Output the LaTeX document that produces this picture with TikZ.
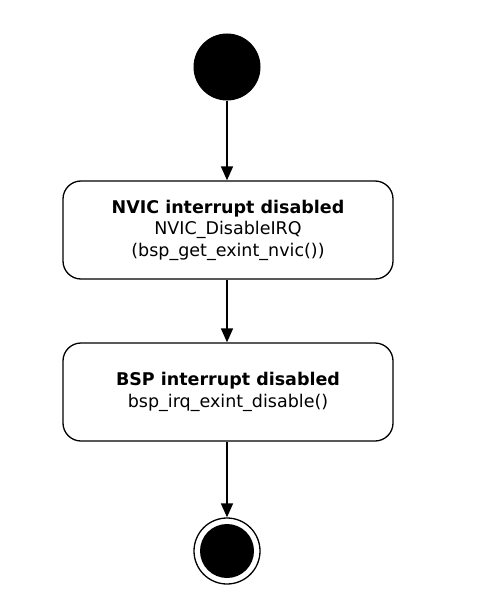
\documentclass[tikz,border=0pt]{standalone}
\usepackage{fontspec}
\setmainfont{DejaVu Sans}
\usetikzlibrary{arrows.meta}
\begin{document}
\begin{tikzpicture}[x=1pt,y=-1pt,
  statebox/.style={draw=black, line width=1.3pt, rounded corners=18pt, minimum width=330pt, minimum height=98pt, align=center, fill=white, font=\fontsize{17.5}{21.5}\selectfont, inner sep=0pt},
  conn/.style={draw=black, line width=1.6pt, -{Triangle[length=14pt,width=12pt]}}]
\useasboundingbox (0,0) rectangle (490,602);
\node[circle, fill=black, minimum size=67pt, inner sep=0pt] (start) at (227,67) {};
\node[statebox] (s1) at (228,230) {\textbf{NVIC interrupt disabled}\\NVIC\_DisableIRQ\\(bsp\_get\_exint\_nvic())};
\node[statebox] (s2) at (228,392) {\textbf{BSP interrupt disabled}\\bsp\_irq\_exint\_disable()};
\node[circle, draw=black, line width=1.3pt, minimum size=66pt, inner sep=0pt] (end) at (227,551) {};
\node[circle, fill=black, minimum size=54pt, inner sep=0pt] (endin) at (end.center) {};
\draw[conn] (start.south) -- (start.south |- s1.north);
\draw[conn] (start.south |- s1.south) -- (start.south |- s2.north);
\draw[conn] (start.south |- s2.south) -- (end.north);
\end{tikzpicture}
\end{document}
